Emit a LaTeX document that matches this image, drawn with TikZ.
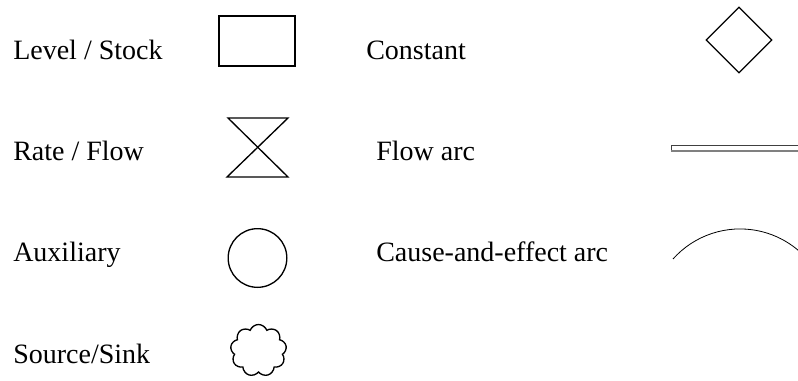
\documentclass[tikz,border=0pt]{standalone}
\usepackage{fontspec}
\setmainfont{Liberation Serif}
\usetikzlibrary{shapes.geometric, shapes.symbols}

\begin{document}
\begin{tikzpicture}[x=0.75pt, y=-0.75pt,
  font=\fontsize{21}{25}\selectfont,
  lbl/.style={anchor=base west, inner sep=0pt},
  sym/.style={draw, line width=1pt, inner sep=0pt},
  thin arc/.style={line width=0.6pt}]
  \useasboundingbox (0,0) rectangle (798,381);
  \clip (0,0) rectangle (798,381);
  % left column
  \node[lbl] (lstock) at (13,60)  {Level / Stock};
  \node[lbl] (lrate)  at (13,161) {Rate / Flow};
  \node[lbl] (laux)   at (13,261) {Auxiliary};
  \node[lbl] (lsrc)   at (13,363) {Source/Sink};
  \node[sym, rectangle, minimum width=57pt, minimum height=37.5pt] (stock) at (257,41) {};
  \coordinate (rtl) at (228,118);
  \coordinate (rtr) at (288,118);
  \coordinate (rbl) at (227,177);
  \coordinate (rbr) at (288,177);
  \draw[line width=1pt, line join=miter] (rtl) -- (rtr) -- (rbl) -- (rbr) -- cycle;
  \node[sym, circle, minimum size=44pt] (aux) at (257.5,258) {};
  \node[sym, cloud, cloud puffs=9, cloud puff arc=140, aspect=1.05,
        minimum width=42pt, minimum height=39pt] (src) at (258.5,350.5) {};
  % right column
  \node[lbl] (lconst) at (366,60)  {Constant};
  \node[lbl] (lflow)  at (376,161) {Flow arc};
  \node[lbl] (lcause) at (376,261) {Cause-and-effect arc};
  \node[sym, diamond, aspect=1, minimum width=49.5pt, minimum height=49.5pt] (const) at (739,40) {};
  \draw[line width=0.6pt, draw=black!75] (671,145) rectangle (810,151);
  \draw[line width=1pt, draw=black!50] (671,151) -- (810,151);
  \draw[thin arc] (673,259) arc[start angle=-138.3, end angle=-30, radius=89.8];
\end{tikzpicture}
\end{document}
